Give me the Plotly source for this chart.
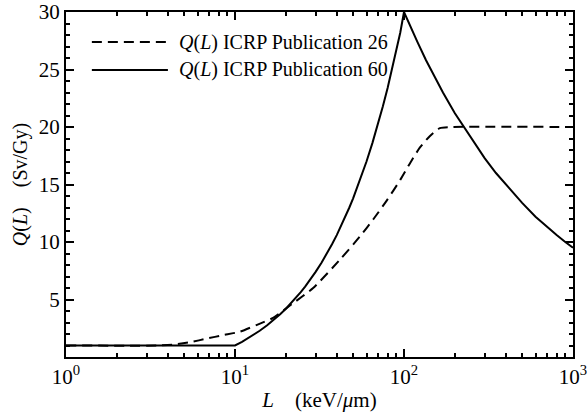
import plotly.graph_objects as go

# ICRP Publication 26 (dashed)
L26 = [1, 3.5, 4.3, 5.5, 6.8, 8.5, 10.7, 13.5, 16.8, 21.7, 29, 42, 55, 66, 79, 95, 109, 124, 142, 163, 195, 1000]
Q26 = [1, 1, 1.08, 1.3, 1.6, 1.9, 2.2, 2.8, 3.4, 4.6, 6.0, 8.5, 10.5, 12.0, 13.6, 15.4, 16.9, 18.2, 19.2, 19.9, 20, 20]

# ICRP Publication 60 (solid)
L60 = [1, 10, 11, 12, 13, 14, 15.5, 17, 18.5, 20, 21.5, 23, 24.5, 26, 28, 30, 32.5, 35, 37.5, 40, 42.5, 45,
       47.5, 50, 55, 60, 65, 70, 75, 80, 85, 90, 95, 100,
       110, 120, 135, 150, 170, 200, 250, 300, 350, 400, 500, 600, 700, 800, 900, 1000]
Q60 = [1, 1, 1.32, 1.64, 1.96, 2.28, 2.76, 3.24, 3.72, 4.2, 4.68, 5.16, 5.64, 6.12, 6.76, 7.4, 8.2, 9.0, 9.8,
       10.6, 11.4, 12.2, 13.0, 13.8, 15.4, 17.0, 18.6, 20.2, 21.8, 23.4, 25.0, 26.6, 28.2, 30,
       28.6, 27.4, 25.8, 24.5, 23.0, 21.2, 19.0, 17.3, 16.0, 15.0, 13.4, 12.2, 11.3, 10.6, 10.0, 9.5]

xtickvals = [1, 10, 100, 1000]
xticktext = ["10<sup>0</sup>", "10<sup>1</sup>", "10<sup>2</sup>", "10<sup>3</sup>"]
xminor = [m * d for d in (1, 10, 100) for m in range(2, 10)]
ytickvals = [5, 10, 15, 20, 25, 30]

FONT = "Liberation Serif, Times New Roman, Times, serif"

fig = go.Figure()
fig.add_trace(go.Scatter(x=L26, y=Q26, mode="lines", line_shape="spline",
                         line=dict(color="black", width=2, dash="10px,6px", smoothing=0.6),
                         showlegend=False))
fig.add_trace(go.Scatter(x=L60, y=Q60, mode="lines",
                         line=dict(color="black", width=2), showlegend=False))

axis_common = dict(showline=True, linecolor="black", linewidth=2, mirror="allticks",
                   ticks="inside", ticklen=8, tickwidth=2, tickcolor="black",
                   showgrid=False, zeroline=False, ticklabeloverflow="allow", automargin=False,
                   tickfont=dict(family=FONT, size=21, color="black"))

fig.update_xaxes(type="log", range=[0, 3], tickmode="array", tickvals=xtickvals, ticktext=xticktext,
                 minor=dict(tickmode="array", tickvals=xminor, ticks="inside", ticklen=4,
                            tickwidth=1.5, tickcolor="black", showgrid=False),
                 title=dict(text="<i>L</i>    (keV/<i>μ</i>m)", font=dict(family=FONT, size=21, color="black"),
                            standoff=4),
                 **axis_common)
fig.update_yaxes(range=[0, 30], tickmode="array", tickvals=ytickvals,
                 minor=dict(dtick=1, ticks="inside", ticklen=4, tickwidth=1.5,
                            tickcolor="black", showgrid=False),
                 title=dict(text="<i>Q</i>(<i>L</i>)    (Sv/Gy)", font=dict(family=FONT, size=20, color="black"),
                            standoff=6),
                 **axis_common)

# custom legend
leg = [("10px,6px", "<i>Q</i>(<i>L</i>) ICRP Publication 26", 0.913),
       ("solid", "<i>Q</i>(<i>L</i>) ICRP Publication 60", 0.832)]
for dash, txt, yy in leg:
    fig.add_shape(type="line", xref="paper", yref="paper", x0=0.051, x1=0.201, y0=yy, y1=yy,
                  line=dict(color="black", width=2, dash=dash))
    fig.add_annotation(xref="paper", yref="paper", x=0.218, y=yy, text=txt, showarrow=False,
                       xanchor="left", yanchor="middle",
                       font=dict(family=FONT, size=20, color="black"))

fig.update_layout(width=587, height=416, margin=dict(l=66, r=14, t=12, b=59),
                  paper_bgcolor="white", plot_bgcolor="white",
                  font=dict(family=FONT, color="black"))

fig.write_html("out.html")
